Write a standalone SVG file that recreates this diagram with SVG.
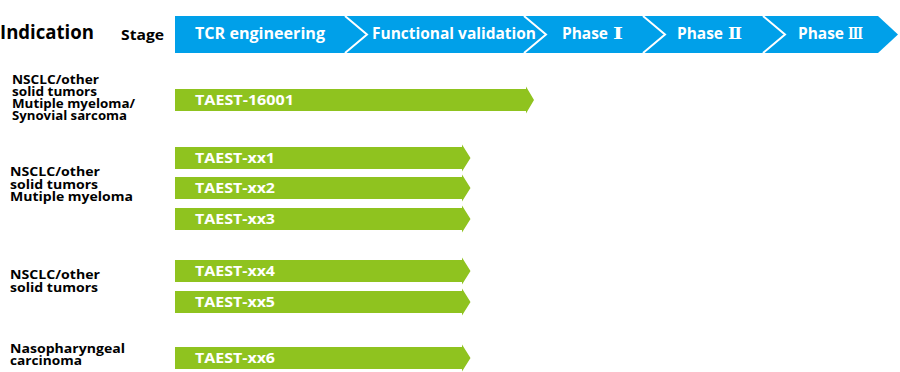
<svg xmlns="http://www.w3.org/2000/svg" width="900" height="372" viewBox="0 0 900 372">
  <style>
    .hdr { font-family: "Open Sans", "Noto Sans", "Liberation Sans", sans-serif; font-weight: bold; fill: #000; }
    .stg { font-family: "Open Sans", "Noto Sans", "Noto Sans CJK SC", sans-serif; font-weight: bold; font-size: 16px; fill: #fff; }
    .rn { font-family: "DejaVu Serif", "Noto Sans CJK SC", serif; font-weight: bold; font-size: 16px; fill: #fff; }
    .lbl { font-family: "Open Sans", "Noto Sans", "Liberation Sans", sans-serif; font-weight: bold; font-size: 13px; fill: #000; }
    .bar { fill: #8FC31F; }
    .bt { font-family: "Open Sans", "Noto Sans", "Liberation Sans", sans-serif; font-weight: bold; font-size: 15px; fill: #fff; }
    .sep { fill: none; stroke: #fff; stroke-width: 2; }
  </style>
  <rect width="900" height="372" fill="#fff"/>

  <g id="headers">
    <text class="hdr" x="0" y="39" font-size="19" textLength="94" lengthAdjust="spacingAndGlyphs">Indication</text>
    <text class="hdr" x="121" y="40" font-size="15" textLength="43" lengthAdjust="spacingAndGlyphs">Stage</text>
  </g>

  <g id="stage-banner">
    <polygon points="175,16 878,16 898,34.5 878,53 175,53" fill="#00A0E9"/>
    <polyline class="sep" points="345,16 367,34.5 345,53"/>
    <polyline class="sep" points="524,16 546,34.5 524,53"/>
    <polyline class="sep" points="643,16 665,34.5 643,53"/>
    <polyline class="sep" points="763,16 785,34.5 763,53"/>
    <text class="stg" x="195" y="39" textLength="130" lengthAdjust="spacingAndGlyphs">TCR engineering</text>
    <text class="stg" x="372" y="39" textLength="164" lengthAdjust="spacingAndGlyphs">Functional validation</text>
    <text class="stg" x="562" y="39"><tspan textLength="46" lengthAdjust="spacingAndGlyphs">Phase</tspan> <tspan class="rn" x="613" textLength="10" lengthAdjust="spacingAndGlyphs">Ⅰ</tspan></text>
    <text class="stg" x="677" y="39"><tspan textLength="46" lengthAdjust="spacingAndGlyphs">Phase</tspan> <tspan class="rn" x="728" textLength="14" lengthAdjust="spacingAndGlyphs">Ⅱ</tspan></text>
    <text class="stg" x="798" y="39"><tspan textLength="46" lengthAdjust="spacingAndGlyphs">Phase</tspan> <tspan class="rn" x="848" textLength="15" lengthAdjust="spacingAndGlyphs">Ⅲ</tspan></text>
  </g>

  <g id="indication-1">
    <text class="lbl" x="12" y="84" textLength="87" lengthAdjust="spacingAndGlyphs">NSCLC/other</text>
    <text class="lbl" x="12" y="96" textLength="85" lengthAdjust="spacingAndGlyphs">solid tumors</text>
    <text class="lbl" x="12" y="108" textLength="123" lengthAdjust="spacingAndGlyphs">Mutiple myeloma/</text>
    <text class="lbl" x="12" y="120" textLength="115" lengthAdjust="spacingAndGlyphs">Synovial sarcoma</text>
  </g>
  <g id="indication-2">
    <text class="lbl" x="10" y="176" textLength="90" lengthAdjust="spacingAndGlyphs">NSCLC/other</text>
    <text class="lbl" x="10" y="188.5" textLength="88" lengthAdjust="spacingAndGlyphs">solid tumors</text>
    <text class="lbl" x="10" y="201" textLength="123" lengthAdjust="spacingAndGlyphs">Mutiple myeloma</text>
  </g>
  <g id="indication-3">
    <text class="lbl" x="10" y="279" textLength="90" lengthAdjust="spacingAndGlyphs">NSCLC/other</text>
    <text class="lbl" x="10" y="291.5" textLength="88" lengthAdjust="spacingAndGlyphs">solid tumors</text>
  </g>
  <g id="indication-4">
    <text class="lbl" x="10" y="353" textLength="115" lengthAdjust="spacingAndGlyphs">Nasopharyngeal</text>
    <text class="lbl" x="10" y="365" textLength="72" lengthAdjust="spacingAndGlyphs">carcinoma</text>
  </g>

  <g id="TAEST-16001">
    <path class="bar" d="M175,89 H526 V86.5 L534,100 L526,113.5 V111 H175 Z"/>
    <text class="bt" x="195" y="105" textLength="99" lengthAdjust="spacingAndGlyphs">TAEST-16001</text>
  </g>
  <g id="TAEST-xx1">
    <path class="bar" d="M175,147 H462 V144.5 L470.5,158 L462,171.5 V169 H175 Z"/>
    <text class="bt" x="195" y="163" textLength="80" lengthAdjust="spacingAndGlyphs">TAEST-xx1</text>
  </g>
  <g id="TAEST-xx2">
    <path class="bar" d="M175,177 H462 V174.5 L470.5,188 L462,201.5 V199 H175 Z"/>
    <text class="bt" x="195" y="193" textLength="80" lengthAdjust="spacingAndGlyphs">TAEST-xx2</text>
  </g>
  <g id="TAEST-xx3">
    <path class="bar" d="M175,208 H462 V205.5 L470.5,219 L462,232.5 V230 H175 Z"/>
    <text class="bt" x="195" y="224" textLength="80" lengthAdjust="spacingAndGlyphs">TAEST-xx3</text>
  </g>
  <g id="TAEST-xx4">
    <path class="bar" d="M175,260 H462 V257.5 L470.5,271 L462,284.5 V282 H175 Z"/>
    <text class="bt" x="195" y="276" textLength="80" lengthAdjust="spacingAndGlyphs">TAEST-xx4</text>
  </g>
  <g id="TAEST-xx5">
    <path class="bar" d="M175,291 H462 V288.5 L470.5,302 L462,315.5 V313 H175 Z"/>
    <text class="bt" x="195" y="307" textLength="80" lengthAdjust="spacingAndGlyphs">TAEST-xx5</text>
  </g>
  <g id="TAEST-xx6">
    <path class="bar" d="M175,347 H462 V344.5 L470.5,358 L462,371.5 V369 H175 Z"/>
    <text class="bt" x="195" y="363" textLength="80" lengthAdjust="spacingAndGlyphs">TAEST-xx6</text>
  </g>

  <g id="connectors"/>
</svg>
